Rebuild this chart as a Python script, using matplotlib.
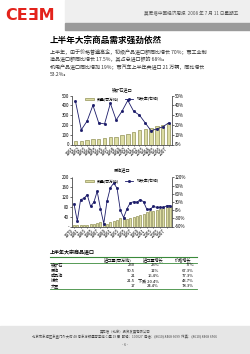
import matplotlib
matplotlib.use('Agg')
import matplotlib.pyplot as plt
from matplotlib.lines import Line2D
from matplotlib.patches import Rectangle
import numpy as np

plt.rcParams['font.family'] = ['Noto Sans CJK SC', 'DejaVu Sans']
plt.rcParams['axes.unicode_minus'] = False

W, H = 250, 354

# data
ore_labels = [str(y) for y in range(1991, 2008)]
ore_qty = [31, 33, 48, 55, 56, 66, 76, 80, 100, 110, 131, 148, 162, 169, 189, 196, 217]
ore_growth = [44, 15, 24, 40, 22, 21, 42, 25, 34, 45, 34, 30, 22, 14, 16, 18, 22]

crude_labels = [str(y) for y in range(1979, 2009)]
crude_qty = [6, 8, 5, 7, 8, 10, 12, 15, 20, 16, 12, 18, 22, 28, 35, 38, 32, 34, 38, 42,
             46, 50, 60, 62, 64, 68, 72, 75, 78, 82]
crude_growth = [23, -40, 39, 43, 57, 14, 29, 69, 5, -49, 35, 83, 99, 81, -1, -27, 5, 27,
                31, 29, 39, 31, 3, 3, 14, 10, 10, 10, 16, 17]

table_head = ['进口量(百万吨)', '进口量增长', '价格增长']
table_rows = ['铁矿石', '原油', '成品油', '煤炭', '大豆']
table_qty = ['230', '90.5', '21', '21.5', '17']
table_qgrowth = ['23%', '11%', '16.4%', '下跌 20.4%', '24.4%']
table_pgrowth = ['77%', '67.3%', '77.3%', '43.7%', '78.3%']

body = ['上半年，由于价格普遍高企，初级产品进口额同比增长 70%；而工业制',
        '造品进口额同比增长 17.5%，其占总进口额的 68%。',
        '机电产品进口同比增加 19%；而汽车上半年共进口 21 万辆，同比增长',
        '53.2%。']


def fx(x):
    return x / W


def fy(y):
    return 1 - y / H


def text(x, y, s, **kw):
    fig.text(fx(x), fy(y), s, **kw)


def hline(x0, x1, y, color, lw):
    fig.add_artist(Line2D([fx(x0), fx(x1)], [fy(y), fy(y)], color=color, lw=lw,
                          transform=fig.transFigure))


fig = plt.figure(figsize=(W / 100, H / 100), dpi=100)

# header
fig.add_artist(Rectangle((fx(65), fy(22)), fx(185), 22 / H, color='#efefef',
                         transform=fig.transFigure, zorder=0))
fig.add_artist(Rectangle((fx(65), fy(29.5)), fx(185), 7 / H, color='#9a9a9a',
                         transform=fig.transFigure, zorder=0))
text(5, 20, 'CEƎM', color='#e3231c', fontsize=11.5, fontweight='bold',
     family='DejaVu Sans', va='baseline')
text(238, 14, '莫尼塔中国经济周报  2008 年 7 月 11 日星期五', color='#555555',
     fontsize=3.3, ha='right', va='center')

# title & body
text(50, 41, '上半年大宗商品需求强劲依然', fontsize=6.2, fontweight='bold', va='center')
for i, line in enumerate(body):
    yy = [52, 59, 67, 74][i]
    text(50, yy, line, fontsize=3.65, va='center', color='#333333')

bar_fc = '#dcdca2'
bar_ec = '#7c7c3a'
line_c = '#1c1c6a'


def draw_chart(rect, labels, qty, growth, yl, yticks, ytl, gl, gticks, step):
    ax = fig.add_axes(rect)
    x = np.arange(len(qty))
    ax.bar(x, qty, width=0.6, color=bar_fc, edgecolor=bar_ec, lw=0.4,
           label='数量(百万吨)')
    ax.set_ylim(*yl)
    ax.set_yticks(yticks)
    ax.set_yticklabels(ytl)
    ax.set_xlim(-0.6, len(qty) - 0.4)
    ax.set_xticks(x[::step])
    ax.set_xticklabels(labels[::step], rotation=45, ha='right', fontsize=2.6)
    ax2 = ax.twinx()
    ax2.plot(x, growth, color=line_c, lw=0.6, marker='s', ms=1.0,
             label='增长率(右轴)')
    ax2.set_ylim(*gl)
    ax2.set_yticks(gticks)
    ax2.set_yticklabels(['%d%%' % v for v in gticks])
    for a in (ax, ax2):
        a.spines['top'].set_visible(False)
        for s in a.spines.values():
            s.set_linewidth(0.4)
            s.set_color('#444444')
        a.tick_params(labelsize=3.2, length=1.2, width=0.4, pad=1)
    ax.tick_params(axis='x', length=1.0, pad=0.5)
    h1, l1 = ax.get_legend_handles_labels()
    h2, l2 = ax2.get_legend_handles_labels()
    ax2.legend(h1 + h2, l1 + l2, loc='upper center', ncol=2, frameon=False,
               fontsize=2.8, handlelength=2.2, handleheight=0.6,
               columnspacing=1.5, borderaxespad=0.1, bbox_to_anchor=(0.5, 1.0))
    return ax


draw_chart([fx(72), fy(144.5), 100 / W, 49 / H], ore_labels, ore_qty, ore_growth,
           (0, 500), [0, 100, 200, 300, 400, 500],
           ['0', '100', '200', '300', '400', '500'],
           (0, 50), [0, 10, 20, 30, 40, 50], 1)
text(122, 90, '铁矿石进口', fontsize=3.0, ha='center', va='center')

draw_chart([fx(72), fy(226.5), 100 / W, 49 / H], crude_labels, crude_qty, crude_growth,
           (0, 200), [0, 40, 80, 120, 160, 200],
           ['-', '40', '80', '120', '160', '200'],
           (-60, 120), [-60, -30, 0, 30, 60, 90, 120], 2)
text(122, 170, '原油进口', fontsize=3.0, ha='center', va='center')

# table
green = '#3a8a3a'
text(50, 252.5, '上半年大宗商品进口', fontsize=3.6, fontweight='bold', va='center')
hline(50, 197, 256.5, green, 0.8)
text(118, 259.5, table_head[0], fontsize=3.0, ha='center', va='center')
text(153, 259.5, table_head[1], fontsize=3.0, ha='center', va='center')
text(183, 259.5, table_head[2], fontsize=3.0, ha='center', va='center')
hline(50, 197, 262.5, green, 0.6)
for i, name in enumerate(table_rows):
    yy = 265.5 + i * 5.2
    text(51, yy, name, fontsize=3.0, va='center')
    text(135, yy, table_qty[i], fontsize=3.0, va='center', ha='right')
    text(159, yy, table_qgrowth[i], fontsize=3.0, va='center', ha='right')
    text(194, yy, table_pgrowth[i], fontsize=3.0, va='center', ha='right')
hline(50, 197, 288.5, green, 0.6)

# footer
fig.add_artist(Rectangle((0, 0), 1, 28 / H, color='#e6e6e6',
                         transform=fig.transFigure, zorder=0))
text(125, 332, '莫尼塔（北京）投资发展有限公司', fontsize=2.4, ha='center', va='center',
     color='#444444')
text(125, 337.5, '北京市东城区东直门外大街 48 号东方银座写字楼 C 座 19 层  邮编：100027  '
     '电话：(8610) 8468 6699  传真：(8610) 8468 6566', fontsize=2.4, ha='center',
     va='center', color='#444444')
text(125, 345, '- 6 -', fontsize=2.6, ha='center', va='center', color='#444444')

fig.savefig('out.png', dpi=100)
